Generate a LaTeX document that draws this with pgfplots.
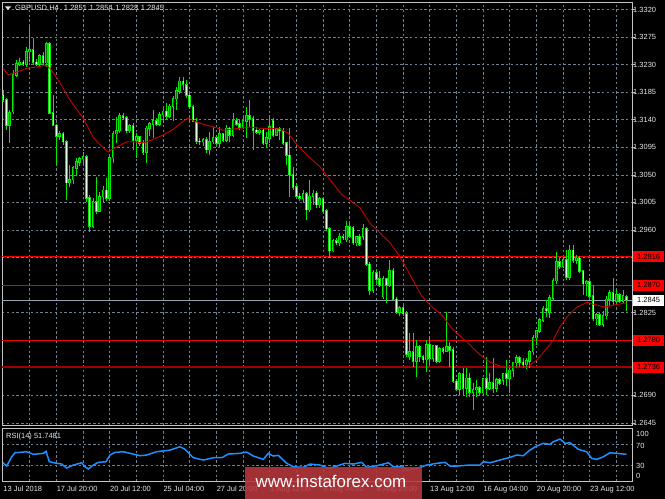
\documentclass[border=0pt]{standalone}
\usepackage{fontspec}
\setmainfont{Liberation Sans}
\usepackage{pgfplots}
\pgfplotsset{compat=1.18}
\usepackage{pgfplotstable}

\definecolor{gridc}{RGB}{112,128,144}
\definecolor{wick}{RGB}{0,235,0}
\definecolor{bullin}{RGB}{0,120,0}
\definecolor{bearin}{RGB}{225,255,225}
\definecolor{mac}{RGB}{200,0,0}
\definecolor{lvl}{RGB}{235,0,0}
\definecolor{lvldark}{RGB}{160,0,0}
\definecolor{bidc}{RGB}{150,160,178}
\definecolor{rsic}{RGB}{30,144,255}
\definecolor{txtc}{RGB}{230,230,230}
\definecolor{framec}{RGB}{195,195,195}
\definecolor{boxred}{RGB}{255,0,0}
\definecolor{wm}{RGB}{185,55,60}

\newcommand\lbl{\fontsize{7.5}{9}\selectfont}

\pgfplotstableread{
i o h l c d
0 1.3180 1.3189 1.3169 1.3172 0
1 1.3172 1.3175 1.3123 1.3131 0
2 1.3131 1.3156 1.3102 1.3151 1
3 1.3153 1.3221 1.3149 1.3213 1
4 1.3213 1.3238 1.3210 1.3231 1
5 1.3231 1.3241 1.3228 1.3234 1
6 1.3234 1.3238 1.3228 1.3231 0
7 1.3231 1.3259 1.3226 1.3251 1
8 1.3251 1.3291 1.3234 1.3254 1
9 1.3254 1.3273 1.3229 1.3234 0
10 1.3234 1.3239 1.3228 1.3231 0
11 1.3231 1.3247 1.3228 1.3244 1
12 1.3244 1.3251 1.3228 1.3233 0
13 1.3233 1.3267 1.3226 1.3264 1
14 1.3264 1.3267 1.3149 1.3151 0
15 1.3151 1.3180 1.3130 1.3131 0
16 1.3131 1.3133 1.3066 1.3113 0
17 1.3113 1.3122 1.3107 1.3117 1
18 1.3117 1.3120 1.3099 1.3104 0
19 1.3104 1.3107 1.3009 1.3037 0
20 1.3037 1.3066 1.3030 1.3042 1
21 1.3042 1.3064 1.3035 1.3061 1
22 1.3061 1.3078 1.3048 1.3071 1
23 1.3071 1.3079 1.3064 1.3076 1
24 1.3076 1.3087 1.3066 1.3079 1
25 1.3079 1.3082 1.3006 1.3012 0
26 1.3012 1.3017 1.2957 1.2966 0
27 1.2966 1.3012 1.2963 1.3006 1
28 1.3006 1.3046 1.2986 1.2991 0
29 1.2991 1.3022 1.2989 1.3014 1
30 1.3014 1.3032 1.3006 1.3025 1
31 1.3025 1.3045 1.3007 1.3012 0
32 1.3012 1.3082 1.3007 1.3078 1
33 1.3078 1.3122 1.3069 1.3117 1
34 1.3117 1.3144 1.3102 1.3122 1
35 1.3122 1.3151 1.3118 1.3146 1
36 1.3146 1.3151 1.3140 1.3143 0
37 1.3143 1.3146 1.3118 1.3122 0
38 1.3122 1.3133 1.3118 1.3130 1
39 1.3130 1.3135 1.3091 1.3107 0
40 1.3107 1.3118 1.3078 1.3112 1
41 1.3112 1.3113 1.3097 1.3102 0
42 1.3102 1.3107 1.3082 1.3087 0
43 1.3087 1.3130 1.3069 1.3126 1
44 1.3126 1.3136 1.3113 1.3133 1
45 1.3133 1.3156 1.3110 1.3138 1
46 1.3138 1.3143 1.3130 1.3133 0
47 1.3133 1.3153 1.3130 1.3148 1
48 1.3148 1.3159 1.3138 1.3154 1
49 1.3154 1.3167 1.3141 1.3146 0
50 1.3146 1.3166 1.3143 1.3162 1
51 1.3162 1.3179 1.3138 1.3174 1
52 1.3174 1.3193 1.3156 1.3187 1
53 1.3187 1.3210 1.3182 1.3203 1
54 1.3203 1.3210 1.3189 1.3198 0
55 1.3197 1.3205 1.3175 1.3180 0
56 1.3180 1.3184 1.3158 1.3161 0
57 1.3161 1.3164 1.3136 1.3138 0
58 1.3136 1.3143 1.3100 1.3105 0
59 1.3105 1.3110 1.3099 1.3104 0
60 1.3104 1.3110 1.3097 1.3107 1
61 1.3107 1.3112 1.3086 1.3091 0
62 1.3091 1.3120 1.3082 1.3104 1
63 1.3104 1.3128 1.3100 1.3110 1
64 1.3110 1.3115 1.3099 1.3102 0
65 1.3102 1.3128 1.3095 1.3117 1
66 1.3117 1.3118 1.3104 1.3107 0
67 1.3107 1.3131 1.3104 1.3126 1
68 1.3126 1.3128 1.3104 1.3115 0
69 1.3115 1.3151 1.3112 1.3138 1
70 1.3138 1.3143 1.3130 1.3133 0
71 1.3133 1.3140 1.3123 1.3128 0
72 1.3128 1.3143 1.3125 1.3138 1
73 1.3138 1.3161 1.3110 1.3146 1
74 1.3146 1.3172 1.3128 1.3141 0
75 1.3141 1.3146 1.3091 1.3123 0
76 1.3123 1.3128 1.3117 1.3120 0
77 1.3120 1.3125 1.3115 1.3123 1
78 1.3123 1.3126 1.3099 1.3102 0
79 1.3102 1.3120 1.3094 1.3110 1
80 1.3110 1.3144 1.3102 1.3128 1
81 1.3138 1.3143 1.3112 1.3115 0
82 1.3115 1.3126 1.3113 1.3125 1
83 1.3125 1.3128 1.3107 1.3122 0
84 1.3122 1.3126 1.3099 1.3102 0
85 1.3102 1.3104 1.3066 1.3082 0
86 1.3082 1.3126 1.3014 1.3050 0
87 1.3050 1.3063 1.3025 1.3030 0
88 1.3030 1.3037 1.3014 1.3015 0
89 1.3015 1.3020 1.3007 1.3012 0
90 1.3012 1.3025 1.3004 1.3019 1
91 1.3019 1.3022 1.2976 1.2993 0
92 1.2993 1.3042 1.2989 1.3015 1
93 1.3015 1.3025 1.3001 1.3020 1
94 1.3020 1.3024 1.2996 1.3001 0
95 1.3001 1.3014 1.2996 1.3011 1
96 1.3011 1.3012 1.2988 1.2991 0
97 1.2991 1.2994 1.2958 1.2962 0
98 1.2962 1.2965 1.2916 1.2926 0
99 1.2926 1.2945 1.2924 1.2942 1
100 1.2942 1.2947 1.2935 1.2939 0
101 1.2939 1.2955 1.2934 1.2949 1
102 1.2949 1.2953 1.2944 1.2947 0
103 1.2944 1.2975 1.2940 1.2965 1
104 1.2965 1.2971 1.2947 1.2950 0
105 1.2963 1.2966 1.2935 1.2939 0
106 1.2939 1.2950 1.2934 1.2949 1
107 1.2949 1.2953 1.2934 1.2937 0
108 1.2950 1.2970 1.2944 1.2962 1
109 1.2962 1.2965 1.2901 1.2904 0
110 1.2904 1.2908 1.2854 1.2862 0
111 1.2862 1.2895 1.2857 1.2890 1
112 1.2890 1.2895 1.2873 1.2880 0
113 1.2880 1.2893 1.2867 1.2870 0
114 1.2851 1.2885 1.2847 1.2880 1
115 1.2880 1.2882 1.2841 1.2870 0
116 1.2870 1.2911 1.2867 1.2893 1
117 1.2893 1.2898 1.2844 1.2847 0
118 1.2847 1.2851 1.2823 1.2826 0
119 1.2826 1.2836 1.2820 1.2833 1
120 1.2833 1.2837 1.2820 1.2823 0
121 1.2823 1.2828 1.2753 1.2757 0
122 1.2753 1.2792 1.2748 1.2761 1
123 1.2761 1.2792 1.2736 1.2746 0
124 1.2746 1.2780 1.2720 1.2769 1
125 1.2769 1.2772 1.2744 1.2753 0
126 1.2753 1.2756 1.2743 1.2748 0
127 1.2748 1.2780 1.2728 1.2772 1
128 1.2772 1.2785 1.2740 1.2751 0
129 1.2751 1.2772 1.2744 1.2771 1
130 1.2771 1.2772 1.2743 1.2746 0
131 1.2746 1.2769 1.2743 1.2766 1
132 1.2766 1.2769 1.2757 1.2762 0
133 1.2762 1.2826 1.2761 1.2769 1
134 1.2769 1.2777 1.2736 1.2764 0
135 1.2764 1.2769 1.2710 1.2713 0
136 1.2713 1.2717 1.2697 1.2700 0
137 1.2700 1.2728 1.2690 1.2725 1
138 1.2725 1.2735 1.2690 1.2702 0
139 1.2702 1.2735 1.2687 1.2718 1
140 1.2718 1.2726 1.2687 1.2695 0
141 1.2695 1.2710 1.2666 1.2699 1
142 1.2699 1.2715 1.2687 1.2702 1
143 1.2702 1.2705 1.2690 1.2695 0
144 1.2694 1.2718 1.2690 1.2717 1
145 1.2717 1.2753 1.2690 1.2702 0
146 1.2702 1.2726 1.2699 1.2710 1
147 1.2710 1.2751 1.2694 1.2702 0
148 1.2702 1.2718 1.2695 1.2715 1
149 1.2715 1.2718 1.2707 1.2710 0
150 1.2715 1.2726 1.2707 1.2725 1
151 1.2725 1.2748 1.2705 1.2718 0
152 1.2718 1.2736 1.2694 1.2731 1
153 1.2731 1.2744 1.2720 1.2743 1
154 1.2743 1.2756 1.2735 1.2751 1
155 1.2751 1.2754 1.2736 1.2744 0
156 1.2744 1.2751 1.2735 1.2740 0
157 1.2740 1.2751 1.2733 1.2746 1
158 1.2746 1.2764 1.2735 1.2761 1
159 1.2761 1.2788 1.2756 1.2784 1
160 1.2784 1.2797 1.2772 1.2795 1
161 1.2795 1.2816 1.2792 1.2813 1
162 1.2813 1.2836 1.2810 1.2831 1
163 1.2831 1.2846 1.2818 1.2828 0
164 1.2826 1.2854 1.2816 1.2849 1
165 1.2849 1.2882 1.2844 1.2877 1
166 1.2877 1.2924 1.2872 1.2908 1
167 1.2908 1.2914 1.2896 1.2901 0
168 1.2901 1.2916 1.2898 1.2911 1
169 1.2911 1.2927 1.2878 1.2883 0
170 1.2883 1.2935 1.2878 1.2927 1
171 1.2927 1.2935 1.2906 1.2911 0
172 1.2911 1.2919 1.2904 1.2914 1
173 1.2914 1.2917 1.2890 1.2893 0
174 1.2893 1.2895 1.2854 1.2872 0
175 1.2872 1.2878 1.2852 1.2875 1
176 1.2875 1.2882 1.2849 1.2852 0
177 1.2852 1.2870 1.2811 1.2815 0
178 1.2815 1.2824 1.2805 1.2821 1
179 1.2821 1.2824 1.2803 1.2806 0
180 1.2806 1.2828 1.2802 1.2820 1
181 1.2820 1.2852 1.2815 1.2847 1
182 1.2847 1.2862 1.2836 1.2857 1
183 1.2857 1.2882 1.2837 1.2844 0
184 1.2844 1.2862 1.2837 1.2854 1
185 1.2854 1.2857 1.2841 1.2844 0
186 1.2844 1.2862 1.2841 1.2852 1
187 1.2851 1.2854 1.2828 1.2845 0
}\candles

\pgfplotsset{
  mtgrid/.style={grid=major, major grid style={gridc, line width=0.6bp, dash pattern=on 2.4bp off 2.4bp}},
  candlebody/.style n args={4}{draw=none, forget plot,
    restrict expr to domain={\thisrow{d}}{#1},
    error bars/.cd, y dir=plus, y explicit, error mark=none,
    error bar style={draw=#2, line width=#3, solid, #4}},
}

\begin{document}
\begin{tikzpicture}[x=1bp,y=1bp]
\fill[black] (0,0) rectangle (665,499);

\begin{axis}[
  at={(2bp,74bp)}, anchor=south west, scale only axis,
  width=630bp, height=423bp,
  xmin=-0.3, xmax=188.7, ymin=1.26415, ymax=1.33322,
  axis line style={framec, line width=0.8bp},
  xtick={8,16,...,184}, xticklabels={},
  xtick style={draw=none},
  ytick={1.2645,1.2690,1.2735,1.2780,1.2825,1.2870,1.2915,1.2960,1.3005,1.3050,1.3095,1.3140,1.3185,1.3230,1.3275,1.3320},
  yticklabels={1.2645,1.2690,,,1.2825,,,1.2960,1.3005,1.3050,1.3095,1.3140,1.3185,1.3230,1.3275,1.3320},
  ytick pos=right, yticklabel pos=right,
  ytick style={framec, line width=0.6bp},
  tick align=outside, major tick length=3bp,
  yticklabel style={font=\lbl, text=txtc, anchor=west, inner sep=0pt, xshift=-2bp},
  mtgrid, clip mode=individual,
]
% horizontal levels
\addplot[lvl, line width=0.9bp, forget plot] coordinates {(-0.3,1.2916) (188.7,1.2916)};
\addplot[lvl, line width=0.9bp, forget plot] coordinates {(-0.3,1.2870) (188.7,1.2870)};
\addplot[lvl, line width=0.9bp, forget plot] coordinates {(-0.3,1.2780) (188.7,1.2780)};
\addplot[lvldark, line width=1.8bp, forget plot] coordinates {(-0.3,1.2736) (188.7,1.2736)};
\addplot[bidc, line width=0.9bp, forget plot] coordinates {(-0.3,1.2845) (188.7,1.2845)};
% wicks
\addplot[draw=none, forget plot, error bars/.cd, y dir=plus, y explicit, error mark=none,
  error bar style={draw=wick, line width=0.75bp, solid}]
  table[x=i, y=l, y error expr=\thisrow{h}-\thisrow{l}] {\candles};
% bull bodies
\addplot[candlebody={0.5:1.5}{wick}{2.6bp}{shorten <=-0.6bp, shorten >=-0.6bp}]
  table[x=i, y=o, y error expr=\thisrow{c}-\thisrow{o}] {\candles};
\addplot[candlebody={0.5:1.5}{bullin}{1.0bp}{}]
  table[x=i, y=o, y error expr=\thisrow{c}-\thisrow{o}] {\candles};
% bear bodies
\addplot[candlebody={-0.5:0.5}{wick}{2.6bp}{shorten <=-0.6bp, shorten >=-0.6bp}]
  table[x=i, y=c, y error expr=\thisrow{o}-\thisrow{c}] {\candles};
\addplot[candlebody={-0.5:0.5}{bearin}{1.0bp}{}]
  table[x=i, y=c, y error expr=\thisrow{o}-\thisrow{c}] {\candles};
% moving average
\addplot[mac, line width=0.9bp, forget plot] coordinates {
(0,1.3224) (1.5,1.3213) (4.2,1.3218) (7.2,1.3224) (10.2,1.3226) (12.6,1.3229) (14.1,1.3224)
(16.2,1.3208) (18,1.3192) (20.1,1.3172) (22.2,1.3156) (24,1.3143) (27,1.3112) (29.1,1.3099)
(31.5,1.3087) (33.6,1.3094) (37.2,1.3104) (39,1.3104) (42,1.3102) (44.7,1.3107) (48,1.3115)
(50.7,1.3123) (53.7,1.3136) (55.5,1.3143) (58.2,1.3136) (61.2,1.3131) (64.5,1.3126) (66,1.3123)
(71.1,1.3126) (74.1,1.3128) (77.1,1.3126) (83.1,1.3125) (85.5,1.3118) (88.2,1.3099) (92.1,1.3078)
(95.1,1.3063) (98.1,1.3042) (101.7,1.3017) (104.7,1.3006) (107.1,1.2996) (110.1,1.2971)
(113.1,1.2955) (116.1,1.2939) (119.1,1.2916) (122.4,1.2884) (125.5,1.2853) (128.5,1.2835)
(131.5,1.2822) (135,1.2797) (139.2,1.2777) (143.1,1.2756) (146.1,1.2744) (150,1.2736)
(153,1.2736) (157.2,1.2736) (160.2,1.2748) (163.2,1.2767) (165,1.2780) (167.1,1.2802)
(169.2,1.2818) (172.2,1.2834) (175.2,1.2842) (177,1.2839) (179.1,1.2836) (180.6,1.2834)
(183,1.2837) (187,1.2841)};
% price labels on the right
\node[anchor=west, fill=boxred, text=black, font=\lbl, inner xsep=4.2bp, inner ysep=0pt, minimum height=11bp, xshift=0.8bp] at (axis cs:188.7,1.2916) {1.2916};
\node[anchor=west, fill=boxred, text=black, font=\lbl, inner xsep=4.2bp, inner ysep=0pt, minimum height=11bp, xshift=0.8bp] at (axis cs:188.7,1.2870) {1.2870};
\node[anchor=west, fill=white, text=black, font=\lbl, inner xsep=4.2bp, inner ysep=0pt, minimum height=11bp, xshift=0.8bp] at (axis cs:188.7,1.2845) {1.2845};
\node[anchor=west, fill=boxred, text=black, font=\lbl, inner xsep=4.2bp, inner ysep=0pt, minimum height=11bp, xshift=0.8bp] at (axis cs:188.7,1.2780) {1.2780};
\node[anchor=west, fill=boxred, text=black, font=\lbl, inner xsep=4.2bp, inner ysep=0pt, minimum height=11bp, xshift=0.8bp] at (axis cs:188.7,1.2736) {1.2736};
\end{axis}

\begin{axis}[
  at={(2bp,17.2bp)}, anchor=south west, scale only axis,
  width=630bp, height=53.5bp,
  xmin=-0.3, xmax=188.7, ymin=0, ymax=100,
  axis line style={framec, line width=0.8bp},
  xtick={8,16,...,184},
  xticklabels={,17 Jul 20:00,,20 Jul 12:00,,25 Jul 04:00,,27 Jul 20:00,,1 Aug 12:00,,6 Aug 04:00,,8 Aug 20:00,,13 Aug 12:00,,16 Aug 04:00,,20 Aug 20:00,,23 Aug 12:00,},
  extra x ticks={0}, extra x tick labels={13 Jul 2018}, extra x tick style={grid=none},
  xtick style={draw=none},
  ytick={30,70}, yticklabels={}, ytick style={draw=none},
  xticklabel style={font=\lbl, text=txtc, anchor=north west, inner sep=0pt, yshift=-4.5bp, xshift=0.3bp},
  mtgrid, clip mode=individual,
]
\addplot[rsic, line width=1.5bp] coordinates {
(0,35.6) (1.1,29.4) (2.6,46.8) (3.6,54.3) (5.1,55) (7.1,56.2) (9.1,51.3) (12.1,53.2) (12.9,56.9)
(13.9,37.5) (16.1,34.5) (17.6,33.2) (19.1,25.7) (21.1,31.3) (23.6,35.6) (24.6,28.1) (25.6,23.8)
(27.1,31.3) (28.6,36.4) (30.9,37.5) (32.1,50) (33.6,55) (36.1,56.2) (38.1,53.2) (41.1,48.7)
(43.1,50) (46.1,56.2) (50.1,59.3) (53.1,65.5) (54.6,60.7) (57.1,45) (60.1,40.7) (63.1,45)
(65.6,45) (67.6,51.9) (71.1,53.2) (73.1,55.6) (75.1,48.1) (78.1,42) (79.6,53.2) (81.1,48.1)
(82.6,49.4) (85.1,34.5) (87.1,28.1) (90.1,27) (92.1,33.2) (95.1,31.3) (97.6,25.1) (100.1,29.4)
(102.6,34.5) (105.1,33.2) (107.6,36.4) (109.1,27) (112.1,30) (115.6,35.6) (117.1,28.1)
(119.6,28.1) (121.1,22) (124.1,25.1) (127.1,31.3) (130.1,34.5) (132.6,36.4) (134.1,29.4)
(136.1,29.4) (140.1,31.3) (143.1,31.3) (144.1,37.5) (146.1,35.6) (149.1,40.7) (152.1,45.7)
(154.1,50) (156.1,48.7) (158.1,59.3) (160.1,66.8) (162.1,71.9) (164.1,70) (165.1,74.9)
(167.1,79.9) (168.6,71.9) (170.1,73) (172.6,60.7) (175.1,56.2) (176.6,43.8) (178.1,42)
(180.1,46.8) (182.1,54.3) (184.1,53.2) (186.1,51.9) (187,51.7)};
\node[anchor=west, text=txtc, font=\lbl, inner sep=0pt, xshift=4bp] at (axis cs:188.7,88.8) {100};
\node[anchor=west, text=txtc, font=\lbl, inner sep=0pt, xshift=4bp] at (axis cs:188.7,67.9) {70};
\node[anchor=west, text=txtc, font=\lbl, inner sep=0pt, xshift=4bp] at (axis cs:188.7,29.5) {30};
\node[anchor=west, text=txtc, font=\lbl, inner sep=0pt, xshift=4bp] at (axis cs:188.7,10.8) {0};
\end{axis}

% header texts
\fill[txtc] (5,492.5) -- (11,492.5) -- (8,489) -- cycle;
\node[anchor=base west, inner sep=0pt, text=txtc, font=\fontsize{7.6}{9}\selectfont] at (15,488)
  {GBPUSD,H4\hspace{5bp}1.2851\hspace{2.5bp}1.2854\hspace{2.5bp}1.2828\hspace{2.5bp}1.2845};
\node[anchor=base west, inner sep=0pt, text=txtc, font=\lbl] at (6,60.5) {RSI(14) 51.7481};

% watermark
\fill[wm, opacity=0.88] (245,0) rectangle (422,32);
\node[anchor=base, inner sep=0pt, text=white, font=\fontsize{17}{20}\selectfont] at (331,11) {www.instaforex.com};

\pgfresetboundingbox
\path[use as bounding box] (0,0) rectangle (665,499);
\end{tikzpicture}
\end{document}
